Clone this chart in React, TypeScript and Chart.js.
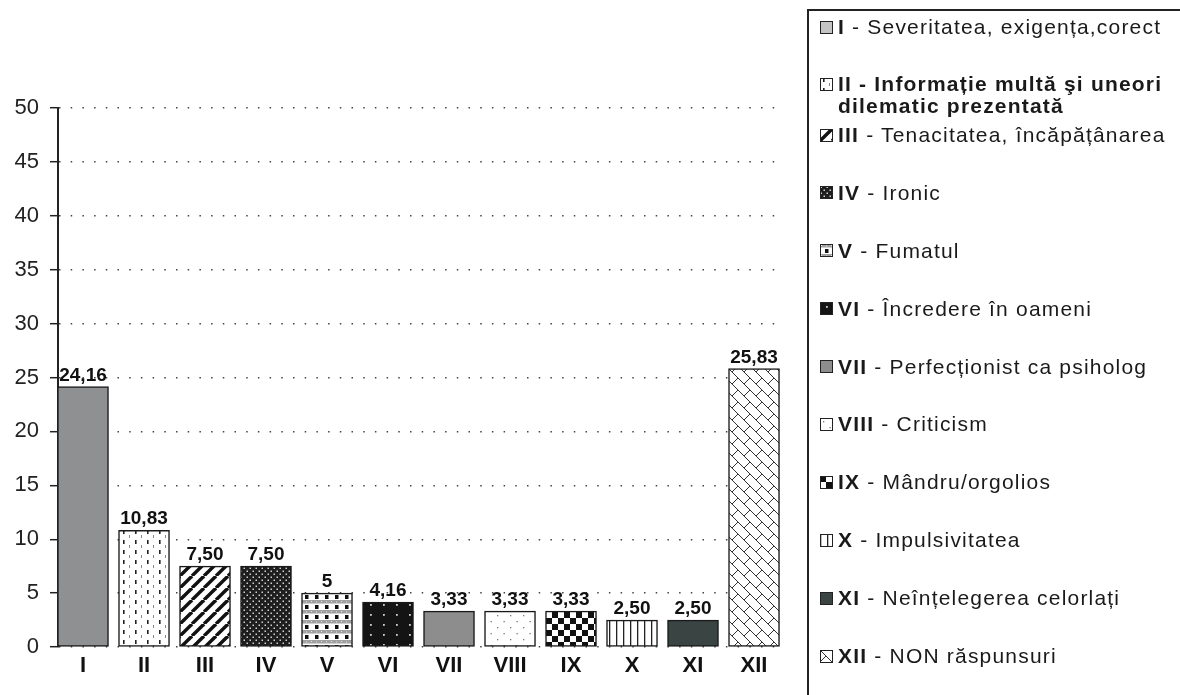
import React, { useEffect, useRef } from "react";
import { Chart, registerables } from "chart.js";

Chart.register(...registerables);

const categories = ["I", "II", "III", "IV", "V", "VI", "VII", "VIII", "IX", "X", "XI", "XII"];
const values = [24.16, 10.83, 7.5, 7.5, 5, 4.16, 3.33, 3.33, 3.33, 2.5, 2.5, 25.83];
const valueLabels = ["24,16", "10,83", "7,50", "7,50", "5", "4,16", "3,33", "3,33", "3,33", "2,50", "2,50", "25,83"];
const yMin = 0;
const yMax = 50;
const yStep = 5;
const legendTexts = [
  "Severitatea, exigența,corect",
  "Informație multă şi uneori\ndilematic prezentată",
  "Tenacitatea, încăpățânarea",
  "Ironic",
  "Fumatul",
  "Încredere în oameni",
  "Perfecționist ca psiholog",
  "Criticism",
  "Mândru/orgolios",
  "Impulsivitatea",
  "Neînțelegerea celorlați",
  "NON răspunsuri",
];
const patternKinds = [
  "gray", "dashCols", "diag", "denseDots", "plaid", "darkDots",
  "gray2", "lightDots", "checker", "vlines", "dark", "brick",
];

const FONT = "'Liberation Sans', Arial, Helvetica, sans-serif";

function makeTile(kind: string): HTMLCanvasElement {
  const c = document.createElement("canvas");
  let w = 12, h = 12;
  if (kind === "gray" || kind === "gray2" || kind === "dark") { w = 4; h = 4; }
  if (kind === "dashCols") { w = 12; h = 10; }
  if (kind === "denseDots") { w = 6; h = 6; }
  if (kind === "plaid") { w = 10; h = 10; }
  if (kind === "darkDots") { w = 13; h = 10; }
  if (kind === "lightDots") { w = 13; h = 12; }
  if (kind === "vlines") { w = 7; h = 4; }
  if (kind === "brick") { w = 12; h = 12; }
  c.width = w; c.height = h;
  const g = c.getContext("2d")!;
  g.fillStyle = "#ffffff";
  g.fillRect(0, 0, w, h);
  switch (kind) {
    case "gray":
      g.fillStyle = "#8f9092"; g.fillRect(0, 0, w, h); break;
    case "gray2":
      g.fillStyle = "#8d8d8d"; g.fillRect(0, 0, w, h); break;
    case "dark":
      g.fillStyle = "#3a4443"; g.fillRect(0, 0, w, h); break;
    case "dashCols":
      g.fillStyle = "#222"; g.fillRect(3, 0, 1.6, 4);
      g.fillStyle = "#8a8a8a"; g.fillRect(9, 5, 1, 3);
      break;
    case "diag":
      g.strokeStyle = "#111"; g.lineWidth = 3.4;
      for (const o of [-12, 0, 12]) {
        g.beginPath(); g.moveTo(o, h); g.lineTo(o + w, 0); g.stroke();
      }
      break;
    case "denseDots":
      g.fillStyle = "#1e1e1e"; g.fillRect(0, 0, w, h);
      g.fillStyle = "#d0d0d0";
      g.fillRect(0.5, 0.5, 1.5, 1.5); g.fillRect(3.5, 3.5, 1.5, 1.5);
      break;
    case "plaid":
      g.fillStyle = "#a0a0a0"; g.fillRect(0, 0, w, 3.5);
      g.fillStyle = "#e8e8e8"; g.fillRect(1, 1, 1, 1); g.fillRect(6, 1.5, 1, 1);
      g.fillStyle = "#111"; g.fillRect(5, 5, 3.5, 4);
      break;
    case "darkDots":
      g.fillStyle = "#141414"; g.fillRect(0, 0, w, h);
      g.fillStyle = "#cfcfcf"; g.fillRect(6, 4, 1.8, 1.8);
      break;
    case "lightDots":
      g.fillStyle = "#777"; g.fillRect(3, 3, 1.3, 1.3); g.fillRect(9.5, 9, 1.3, 1.3);
      break;
    case "checker":
      g.fillStyle = "#111"; g.fillRect(0, 0, 6, 6); g.fillRect(6, 6, 6, 6);
      break;
    case "vlines":
      g.fillStyle = "#222"; g.fillRect(0, 0, 1.3, h);
      break;
    case "brick":
      g.strokeStyle = "#333"; g.lineWidth = 1;
      g.beginPath(); g.moveTo(0, 0); g.lineTo(w, h); g.stroke();
      g.beginPath(); g.moveTo(0, h); g.lineTo(w / 2, h / 2); g.stroke();
      break;
  }
  return c;
}

const valueLabelPlugin = {
  id: "valueLabels",
  afterDatasetsDraw(chart: any) {
    const ctx = chart.ctx;
    const meta = chart.getDatasetMeta(0);
    ctx.save();
    ctx.font = `bold 19px ${FONT}`;
    ctx.fillStyle = "#111";
    ctx.textAlign = "center";
    ctx.textBaseline = "alphabetic";
    meta.data.forEach((el: any, i: number) => {
      ctx.fillText(valueLabels[i], el.x, el.y - 6);
    });
    ctx.restore();
  },
};

export default function App() {
  const canvasRef = useRef<HTMLCanvasElement | null>(null);
  const swatchRefs = useRef<(HTMLCanvasElement | null)[]>([]);

  useEffect(() => {
    const canvas = canvasRef.current!;
    const ctx = canvas.getContext("2d")!;
    const patterns = patternKinds.map((k) => ctx.createPattern(makeTile(k), "repeat")!);

    swatchRefs.current.forEach((sw, i) => {
      if (!sw) return;
      const g = sw.getContext("2d")!;
      g.clearRect(0, 0, sw.width, sw.height);
      if (i === 0) {
        g.fillStyle = "#c4c4c4";
      } else {
        g.fillStyle = g.createPattern(makeTile(patternKinds[i]), "repeat")!;
      }
      g.fillRect(0, 0, sw.width, sw.height);
      g.strokeStyle = "#222";
      g.lineWidth = 1;
      g.strokeRect(0.5, 0.5, sw.width - 1, sw.height - 1);
    });

    const chart = new Chart(canvas, {
      type: "bar",
      data: {
        datasets: [
          {
            data: values.map((v, i) => ({ x: i, y: v })),
            backgroundColor: patterns,
            borderColor: "#1a1a1a",
            borderWidth: 1.5,
            borderSkipped: false,
            barThickness: 51,
          },
        ],
      },
      options: {
        responsive: false,
        maintainAspectRatio: false,
        animation: false,
        layout: { padding: { top: 108, right: 20, left: 0, bottom: 0 } },
        plugins: {
          legend: { display: false },
          tooltip: { enabled: false },
          title: { display: false },
        },
        scales: {
          x: {
            type: "linear",
            min: -0.41,
            max: 11.426,
            offset: false,
            grid: { display: false, drawTicks: false },
            border: { display: false },
            ticks: {
              autoSkip: false,
              maxRotation: 0,
              padding: 6,
              color: "#111",
              font: { family: FONT, size: 22, weight: "bold" },
              callback: (v: any) => {
                const n = Number(v);
                return Number.isInteger(n) && categories[n] ? categories[n] : "";
              },
            },
            afterBuildTicks: (s: any) => {
              s.ticks = categories.map((_, i) => ({ value: i }));
            },
            afterFit: (s: any) => {
              s.height = 48;
            },
          },
          y: {
            min: yMin,
            max: yMax,
            ticks: {
              stepSize: yStep,
              padding: 11,
              color: "#222",
              font: { family: FONT, size: 22 },
            },
            grid: {
              color: "#444",
              lineWidth: 1.4,
              tickLength: 8,
              tickColor: "#222",
              tickWidth: 1.5,
              tickBorderDash: [],
            },
            border: { display: true, color: "#222", width: 2, dash: [1.5, 10.2] },
            afterFit: (s: any) => {
              s.width = 58;
            },
          },
        },
      },
      plugins: [valueLabelPlugin],
    } as any);

    return () => chart.destroy();
  }, []);

  return (
    <div
      style={{
        position: "fixed",
        left: 0,
        top: 0,
        width: 1180,
        height: 695,
        overflow: "hidden",
        background: "#fff",
      }}
    >
      <canvas
        ref={canvasRef}
        width={800}
        height={695}
        style={{ position: "absolute", left: 0, top: 0, width: 800, height: 695 }}
      />
      <div
        style={{
          position: "absolute",
          left: 807,
          top: 9,
          width: 420,
          height: 720,
          borderLeft: "2px solid #222",
          borderTop: "2px solid #222",
          paddingTop: 5,
          boxSizing: "border-box",
          fontFamily: FONT,
          fontSize: 21,
          letterSpacing: "1.2px",
          color: "#1a1a1a",
          lineHeight: "22px",
        }}
      >
        {categories.map((cat, i) => (
          <div
            key={cat}
            style={{
              display: "flex",
              alignItems: "flex-start",
              height: i === 0 ? 57 : i === 1 ? 51 : 57.9,
              paddingLeft: 11,
            }}
          >
            <canvas
              ref={(el) => {
                swatchRefs.current[i] = el;
              }}
              width={13}
              height={13}
              style={{ width: 13, height: 13, marginTop: 4.5, marginRight: 5, flex: "0 0 auto" }}
            />
            <div
              style={{
                whiteSpace: i === 1 ? "pre-line" : "nowrap",
                fontWeight: i === 1 ? "bold" : "normal",
              }}
            >
              <span style={{ fontWeight: "bold" }}>{cat}</span>
              {" - " + legendTexts[i]}
            </div>
          </div>
        ))}
      </div>
    </div>
  );
}
